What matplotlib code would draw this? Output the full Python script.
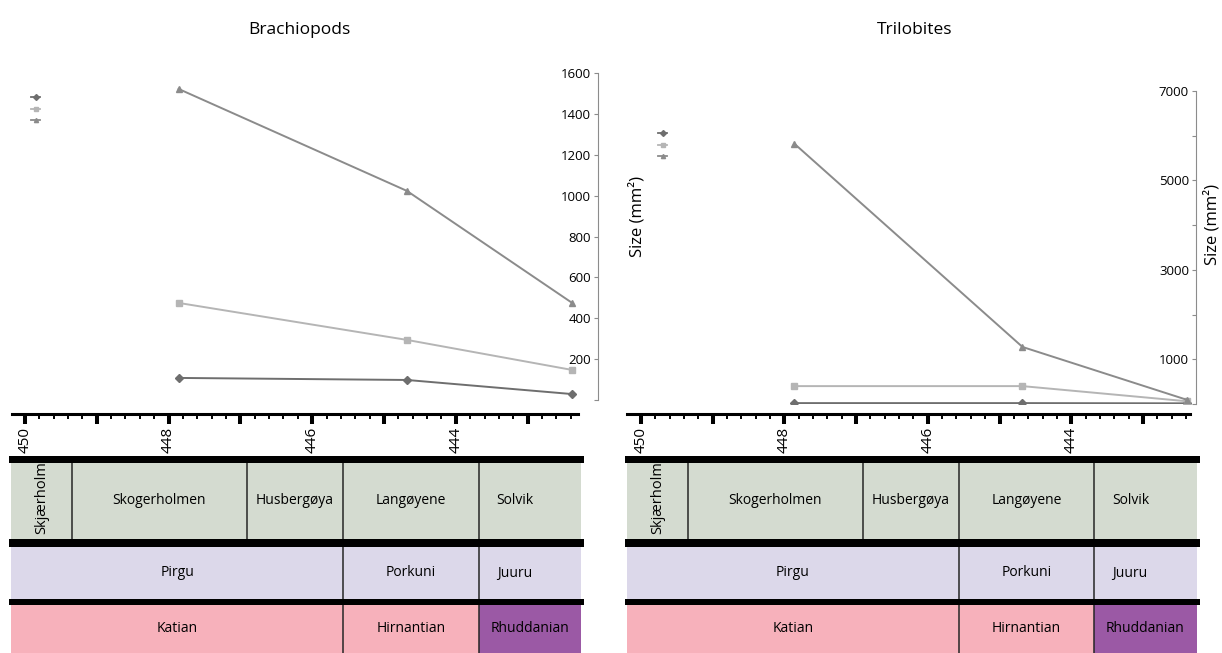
import numpy as np
import matplotlib
matplotlib.use('Agg')
import matplotlib.pyplot as plt
from matplotlib.ticker import FixedLocator, FuncFormatter
from matplotlib.lines import Line2D

plt.rcParams['font.family'] = ['Open Sans', 'DejaVu Sans']

# ages (Ma) of the three sampled levels
age = [447.86, 444.68, 442.38]

# mean sizes (mm2)
brach_diamond = [108, 98, 29]
brach_square = [475, 294, 147]
brach_triangle = [1522, 1023, 475]
trilo_diamond = [20, 20, 15]
trilo_square = [400, 400, 60]
trilo_triangle = [5820, 1276, 90]

# stratigraphy columns
formations = ['Skjærholm', 'Skogerholmen', 'Husbergøya', 'Langøyene', 'Solvik']
formation_bounds = [450.19, 449.35, 446.91, 445.57, 443.68, 442.25]
estonian_stages = ['Pirgu', 'Porkuni', 'Juuru']
global_stages = ['Katian', 'Hirnantian', 'Rhuddanian']
stage_bounds = [450.19, 445.57, 443.68, 442.25]

brach_yticks = [0, 200, 400, 600, 800, 1000, 1200, 1400, 1600]
brach_ylabels = ['', '200', '400', '600', '800', '1000', '1200', '1400', '1600']
trilo_yticks = [0, 1000, 2000, 3000, 4000, 5000, 6000, 7000]
trilo_ylabels = ['', '1000', '', '3000', '', '5000', '', '7000']

c_dia, c_sq, c_tri = '#6e6e6e', '#b5b5b5', '#8b8b8b'
row_colors = ['#d4dbd0', '#dcd8ea', '#f7b1bb']
rhud_color = '#9b59a5'

W, H = 1222, 653
fig = plt.figure(figsize=(W / 100, H / 100), dpi=100)


def rect(l, r, t, b):
    return [l / W, 1 - b / H, (r - l) / W, (b - t) / H]


def panel(l, r, xl, xr, top, bottom, ymax, yticks, ylabels, series, title,
          title_x, leg_xy, label_xy, ruler_end):
    ax = fig.add_axes(rect(l, r, top, bottom))
    ax.patch.set_visible(False)
    for vals, m, c in series:
        ax.plot(age, vals, color=c, marker=m, ms=4, lw=1.4, mec=c, mfc=c)
    ax.set_xlim(xl, xr)
    ax.set_ylim(0, ymax)
    for s in ['top', 'bottom', 'right']:
        ax.spines[s].set_visible(False)
    ax.spines['left'].set_position(('axes', 1.0))
    ax.spines['left'].set_color('#8c8c8c')
    ax.set_xticks([])
    ax.yaxis.set_major_locator(FixedLocator(yticks))
    ax.set_yticklabels(ylabels)
    ax.tick_params(axis='y', length=3, color='#8c8c8c', labelsize=9.5, pad=2)
    ax.set_ylabel('Size (mm²)', fontsize=12)
    ax.yaxis.set_label_coords(*label_xy)
    fig.text(title_x / W, 1 - 30 / H, title, ha='center', va='center', fontsize=12.5)

    handles = [Line2D([], [], color=c, marker=m, ms=3, lw=1.3) for _, m, c in series]
    ax.legend(handles, ['', '', ''], loc='upper left',
              bbox_to_anchor=(leg_xy[0] / W, 1 - leg_xy[1] / H),
              bbox_transform=fig.transFigure, frameon=False, handlelength=1.1,
              fontsize=6, labelspacing=0.45, borderpad=0, handletextpad=0)

    # age ruler
    axr = fig.add_axes(rect(l, r, 404, 414))
    axr.patch.set_visible(False)
    axr.set_xlim(xl, xr)
    for s in ['top', 'left', 'right']:
        axr.spines[s].set_visible(False)
    axr.spines['bottom'].set_linewidth(2.2)
    axr.spines['bottom'].set_bounds(xl, ruler_end)
    axr.set_yticks([])
    major = np.arange(450, 442.9, -1.0)
    minor = [v for v in np.round(np.arange(450, ruler_end, -0.2), 1) if v % 1 != 0]
    axr.xaxis.set_major_locator(FixedLocator(major))
    axr.xaxis.set_minor_locator(FixedLocator(minor))
    axr.xaxis.set_major_formatter(
        FuncFormatter(lambda v, p: f'{v:.0f}' if round(v) % 2 == 0 else ''))
    axr.tick_params(axis='x', which='major', length=7.5, width=2.9, direction='out',
                    labelsize=11, labelrotation=90, pad=2)
    axr.tick_params(axis='x', which='minor', length=3.6, width=1.4, direction='out')

    # stratigraphic table
    axt = fig.add_axes(rect(l, r, 455, 653))
    axt.set_xlim(xl, xr)
    axt.set_ylim(198, 0)
    axt.axis('off')
    rows = [(8, 84), (92, 144), (150, 198)]
    bands = [(1, 8), (84, 92), (144, 150)]
    band_l, band_r = formation_bounds[0] + 0.03, formation_bounds[-1] - 0.04
    for a, b in bands:
        axt.barh((a + b) / 2, band_r - band_l, left=band_l, height=b - a,
                 color='black', lw=0, clip_on=False)
    columns = [(formations, formation_bounds), (estonian_stages, stage_bounds),
               (global_stages, stage_bounds)]
    for i, ((names, bounds), (a, b)) in enumerate(zip(columns, rows)):
        for j, name in enumerate(names):
            x0, x1 = bounds[j], bounds[j + 1]
            fill = rhud_color if name == 'Rhuddanian' else row_colors[i]
            axt.barh((a + b) / 2, x1 - x0, left=x0, height=b - a, color=fill,
                     lw=0, clip_on=False)
            if name == 'Skjærholm':
                axt.text((x0 + x1) / 2, (a + b) / 2 - 3, name, rotation=90,
                         ha='center', va='center', fontsize=10.5, clip_on=True)
            elif name in ('Solvik', 'Juuru'):
                axt.text(x0 - 0.25, (a + b) / 2, name, ha='left', va='center',
                         fontsize=10)
            else:
                axt.text((x0 + x1) / 2, (a + b) / 2, name, ha='center',
                         va='center', fontsize=10)
        axt.vlines(bounds[1:-1], a, b, color='#262626', lw=1.1)
    return ax


brach_series = [(brach_diamond, 'D', c_dia), (brach_square, 's', c_sq),
                (brach_triangle, '^', c_tri)]
trilo_series = [(trilo_diamond, 'D', c_dia), (trilo_square, 's', c_sq),
                (trilo_triangle, '^', c_tri)]

panel(12, 598, 450.18, 442.02, 73, 400, 1600, brach_yticks, brach_ylabels,
      brach_series, 'Brachiopods', 299, (27, 90), (1.081, 0.56), 442.3)
panel(627, 1196, 450.195, 442.26, 91, 404, 7000, trilo_yticks, trilo_ylabels,
      trilo_series, 'Trilobites', 915, (654, 126), (1.043, 0.572), 442.34)

fig.savefig('out.png', dpi=100)
